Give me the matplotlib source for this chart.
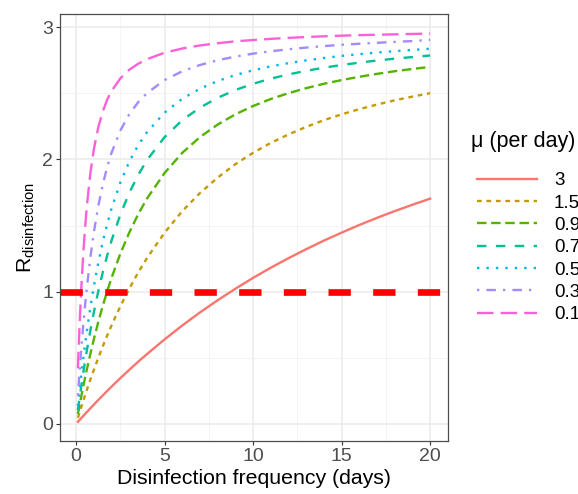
import matplotlib
matplotlib.use("Agg")
import matplotlib.pyplot as plt

plt.rcParams['font.family'] = ['Liberation Sans', 'DejaVu Sans']
plt.rcParams['mathtext.fontset'] = 'custom'
plt.rcParams['mathtext.rm'] = 'Liberation Sans'
plt.rcParams['mathtext.it'] = 'Liberation Sans:italic'

# disinfection interval (days)
freq = [0.1, 0.2, 0.3, 0.4, 0.5, 0.6, 0.8, 1, 1.25, 1.5, 1.75, 2, 2.5, 3, 3.5, 4,
        5, 6, 7, 8, 9, 10, 11, 12, 13, 14, 15, 16, 17, 18, 19, 20]

mu_labels = ['3', '1.5', '0.9', '0.7', '0.5', '0.3', '0.1']

r_mu_3 = [0.015, 0.030, 0.045, 0.059, 0.074, 0.088, 0.117, 0.145, 0.180, 0.214, 0.248,
          0.281, 0.346, 0.408, 0.469, 0.527, 0.639, 0.744, 0.843, 0.935, 1.022, 1.104,
          1.181, 1.253, 1.321, 1.386, 1.446, 1.504, 1.558, 1.609, 1.657, 1.703]
r_mu_15 = [0.045, 0.088, 0.131, 0.173, 0.214, 0.254, 0.333, 0.408, 0.498, 0.584, 0.666,
           0.744, 0.890, 1.022, 1.143, 1.253, 1.446, 1.609, 1.746, 1.863, 1.964, 2.050,
           2.125, 2.189, 2.246, 2.297, 2.341, 2.380, 2.415, 2.447, 2.475, 2.501]
r_mu_09 = [0.074, 0.145, 0.214, 0.281, 0.346, 0.408, 0.527, 0.639, 0.770, 0.890, 1.001,
           1.104, 1.288, 1.446, 1.584, 1.703, 1.898, 2.050, 2.169, 2.264, 2.341, 2.404,
           2.457, 2.501, 2.539, 2.572, 2.600, 2.625, 2.647, 2.667, 2.684, 2.700]
r_mu_07 = [0.103, 0.200, 0.294, 0.383, 0.469, 0.550, 0.703, 0.843, 1.001, 1.143, 1.271,
           1.386, 1.584, 1.746, 1.881, 1.994, 2.169, 2.297, 2.392, 2.466, 2.525, 2.572,
           2.611, 2.643, 2.670, 2.694, 2.714, 2.732, 2.748, 2.762, 2.774, 2.786]
r_mu_05 = [0.134, 0.260, 0.379, 0.490, 0.596, 0.695, 0.876, 1.039, 1.217, 1.373, 1.509,
           1.628, 1.826, 1.982, 2.106, 2.205, 2.354, 2.459, 2.535, 2.593, 2.638, 2.674,
           2.704, 2.728, 2.749, 2.767, 2.783, 2.796, 2.808, 2.819, 2.828, 2.837]
r_mu_03 = [0.214, 0.408, 0.584, 0.744, 0.890, 1.022, 1.253, 1.446, 1.646, 1.807, 1.940,
           2.050, 2.219, 2.341, 2.432, 2.501, 2.600, 2.667, 2.714, 2.750, 2.778, 2.800,
           2.818, 2.833, 2.846, 2.857, 2.867, 2.875, 2.882, 2.889, 2.895, 2.905]
r_mu_01 = [0.420, 0.764, 1.047, 1.281, 1.475, 1.638, 1.892, 2.076, 2.242, 2.361, 2.450,
           2.517, 2.613, 2.678, 2.723, 2.758, 2.807, 2.839, 2.862, 2.879, 2.893, 2.903,
           2.912, 2.919, 2.926, 2.931, 2.936, 2.940, 2.943, 2.946, 2.949, 2.952]

threshold = 1

series = [r_mu_3, r_mu_15, r_mu_09, r_mu_07, r_mu_05, r_mu_03, r_mu_01]
colors = ['#F8766D', '#C49A00', '#53B400', '#00C094', '#00B6EB', '#A58AFF', '#FB61D7']
# ggplot linetype palette: solid, 22, 42, 44, 13, 1343, 73
dashes = [None, (2, 2), (4, 2), (4, 4), (1, 3), (1, 3, 4, 3), (7, 3)]

fig = plt.figure(figsize=(5.78, 4.94), dpi=100)
ax = fig.add_axes([0.1043, 0.1073, 0.6703, 0.8644])

ax.set_xticks([0, 5, 10, 15, 20])
ax.set_xticks([2.5, 7.5, 12.5, 17.5], minor=True)
ax.set_yticks([0, 1, 2, 3])
ax.set_yticks([0.5, 1.5, 2.5], minor=True)
ax.grid(which='major', color='#EBEBEB', lw=1.1)
ax.grid(which='minor', color='#F2F2F2', lw=0.6)
ax.set_axisbelow(True)

handles = []
for y, c, d, lab in zip(series, colors, dashes, mu_labels):
    ln, = ax.plot(freq, y, color=c, lw=1.7, label=lab)
    if d is not None:
        ln.set_dashes(d)
    handles.append(ln)

ax.axhline(threshold, color='#FF0000', lw=4.8, linestyle=(0, (3.35, 3.35)))

ax.set_xlim(-0.895, 20.995)
ax.set_ylim(-0.13, 3.10)

for s in ax.spines.values():
    s.set_color('#4D4D4D')
    s.set_linewidth(0.9)
ax.tick_params(which='major', length=2.75, width=0.8, color='#333333',
               labelsize=14, labelcolor='#4D4D4D', pad=2.5)
ax.tick_params(which='minor', length=0)

ax.set_xlabel('Disinfection frequency (days)', fontsize=15.3, labelpad=3)
ax.set_ylabel(r'$\mathrm{R}_{\mathrm{disinfection}}$', fontsize=15.3, labelpad=4)

fig.text(471 / 578, 1 - 141 / 494, 'μ (per day)', fontsize=15.5,
         ha='left', va='center')
fig.legend(handles=handles, labels=mu_labels, loc='upper left',
           bbox_to_anchor=(476.5 / 578, 1 - 172 / 494), frameon=False,
           fontsize=13.5, handlelength=3.23, handletextpad=0.9,
           labelspacing=0.28, borderpad=0, borderaxespad=0)

fig.savefig('out.png', dpi=100)
